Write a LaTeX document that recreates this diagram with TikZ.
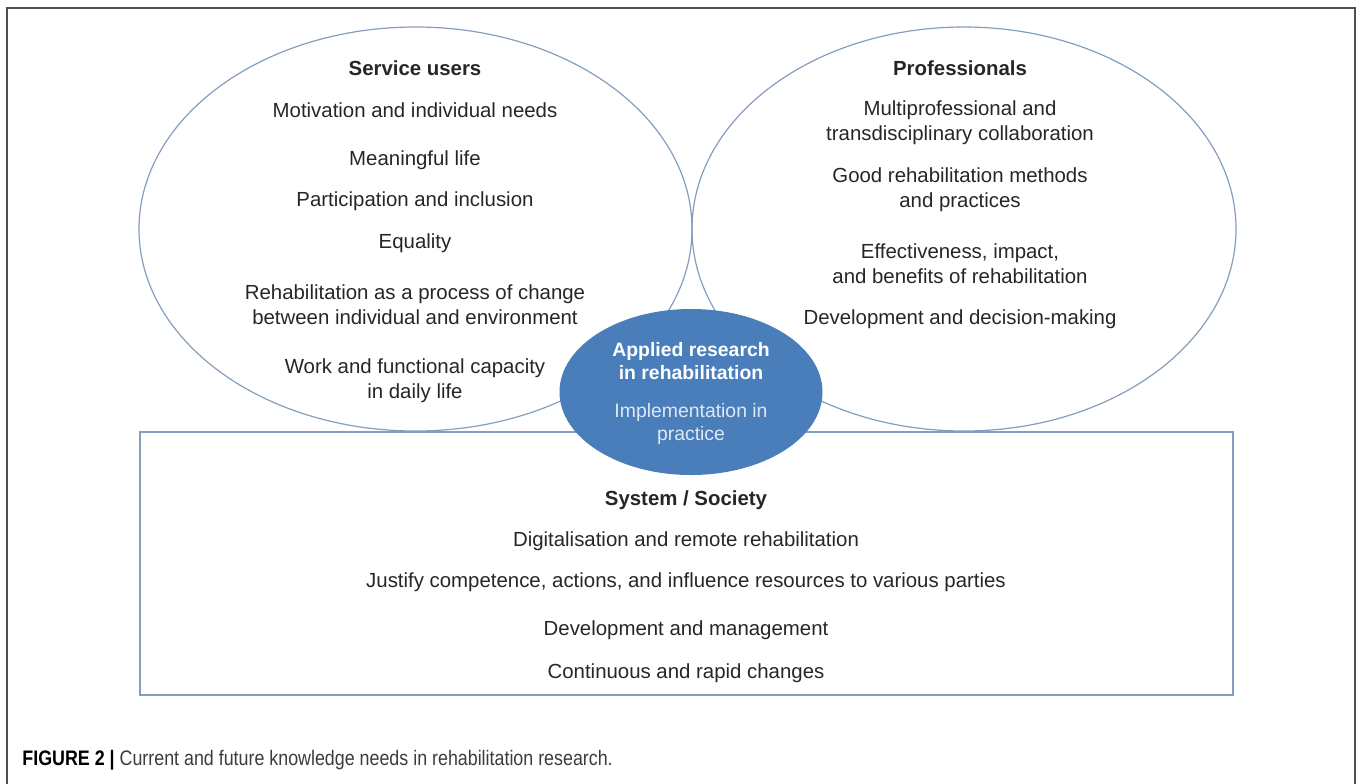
\documentclass[tikz,border=0pt]{standalone}
\usepackage{fontspec}
\setmainfont{Liberation Sans}
\usepackage{tikz}
\usetikzlibrary{calc,shapes.geometric}

\definecolor{rimblue}{RGB}{132,158,190}
\definecolor{hubblue}{RGB}{74,126,187}
\definecolor{hubpale}{RGB}{222,232,244}
\definecolor{bodytext}{RGB}{38,38,38}
\definecolor{capgray}{RGB}{60,60,60}
\definecolor{framegray}{RGB}{80,80,80}

\begin{document}
\begin{tikzpicture}[x=0.5pt,y=-0.5pt,
  rim/.style={draw=rimblue,line width=0.6pt},
  need/.style={text=bodytext,align=center,inner sep=0pt,
    font=\fontsize{10.2}{12.5}\selectfont},
  head/.style={need,font=\fontsize{10.2}{12.5}\selectfont\bfseries},
  hubtext/.style={text=white,align=center,inner sep=0pt,
    font=\fontsize{9.7}{11.5}\selectfont}]

  \useasboundingbox (0,0) rectangle (1358,783);

  %% Frame round the figure
  \draw[framegray,line width=0.75pt] (7,800) -- (7,8) -- (1355,8) -- (1355,800);

  %% The two ellipses and the box
  \node[rim,ellipse,minimum width=276.5pt,minimum height=202pt] (USERS) at (415.5,229) {};
  \node[rim,ellipse,minimum width=272pt,minimum height=202pt] (PROS) at (964,229) {};
  \node[rim,rectangle,minimum width=546.5pt,minimum height=131.5pt] (SOCIETY) at (686.5,563.5) {};

  %% Service users
  \node[head] (SUhead) at (415,68) {Service users};
  \foreach \i/\y/\txt in {1/110/{Motivation and individual needs},
                          2/160/{Meaningful life},
                          3/201/{Participation and inclusion},
                          4/243/{Equality},
                          5/304.5/{Rehabilitation as a process of change\\between individual and environment},
                          6/380.5/{Work and functional capacity\\in daily life}}
  {
    \node[need] (SU\i) at (415,\y) {\txt};
  }

  %% Professionals
  \node[head] (PRhead) at (960,68) {Professionals};
  \foreach \i/\y/\txt in {1/122.5/{Multiprofessional and\\transdisciplinary collaboration},
                          2/189.5/{Good rehabilitation methods\\and practices},
                          3/264/{Effectiveness, impact,\\and benefits of rehabilitation},
                          4/319/{Development and decision-making}}
  {
    \node[need] (PR\i) at (960,\y) {\txt};
  }

  %% System / Society
  \node[head] (SShead) at (686,500) {System / Society};
  \foreach \i/\y/\txt in {1/541/{Digitalisation and remote rehabilitation},
                          2/582/{Justify competence, actions, and influence resources to various parties},
                          3/630/{Development and management},
                          4/673/{Continuous and rapid changes}}
  {
    \node[need] (SS\i) at (686,\y) {\txt};
  }

  %% Applied research in the middle
  \node[ellipse,fill=hubblue,minimum width=131.5pt,minimum height=83pt] (HUB) at (691,392) {};
  \node[hubtext,font=\fontsize{9.7}{11.5}\selectfont\bfseries] (HUBhead) at (691,361.5) {Applied research\\in rehabilitation};
  \node[hubtext,text=hubpale] (HUBsub) at (691,423.5) {Implementation in\\practice};

  %% Caption
  \node[anchor=west,inner sep=0pt] (CAPTION) at (22,760)
    {\scalebox{0.85}[1]{\fontsize{10.5}{12}\selectfont\textbf{FIGURE 2 |} \textcolor{capgray}{Current and future knowledge needs in rehabilitation research.}}};

\end{tikzpicture}
\end{document}
